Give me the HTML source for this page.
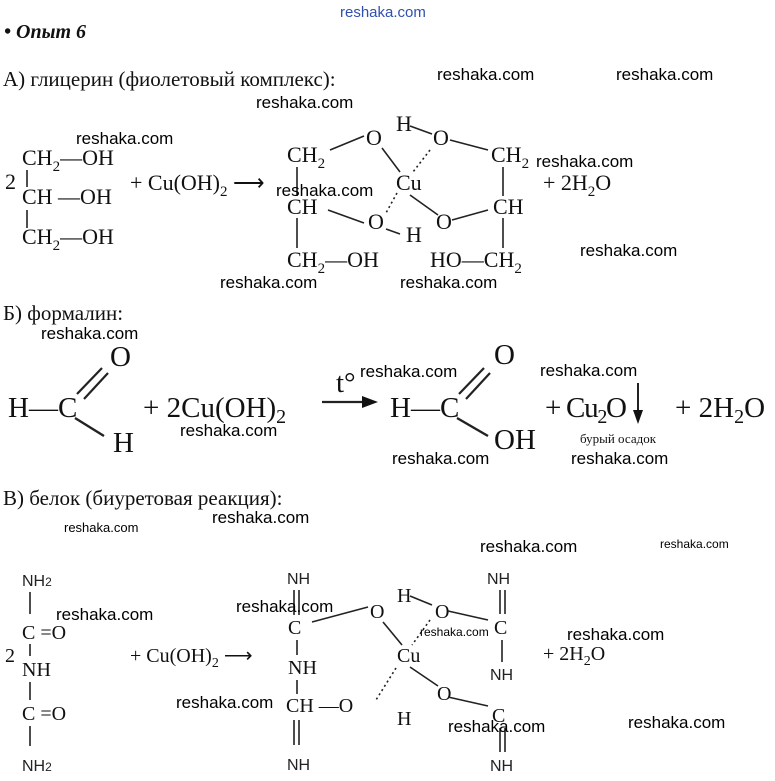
<!DOCTYPE html>
<html><head><meta charset="utf-8"><style>
html,body{margin:0;padding:0;background:#fff;}
svg{display:block}
.s{font-family:"Liberation Serif",serif;fill:#111}
.w{font-family:"Liberation Sans",sans-serif;font-size:17px;fill:#000}
.n{font-family:"Liberation Sans",sans-serif;fill:#222}
line{stroke:#222;stroke-width:1.6}
.d{stroke-dasharray:2 3}
</style></head><body>
<svg width="775" height="781" viewBox="0 0 775 781" xmlns="http://www.w3.org/2000/svg">
<text x="340" y="17" font-family="Liberation Sans,sans-serif" font-size="15" fill="#3050b0">reshaka.com</text>
<text x="4" y="38" class="s" font-size="20" font-weight="bold" font-style="italic">• Опыт 6</text>
<text x="3" y="86" class="s" font-size="21">А) глицерин (фиолетовый комплекс):</text>

<!-- glycerin -->
<g class="s" font-size="22">
<text x="22" y="165">CH<tspan font-size="15" dy="6">2</tspan><tspan dy="-6">—OH</tspan></text>
<text x="22" y="204">CH —OH</text>
<text x="22" y="244">CH<tspan font-size="15" dy="6">2</tspan><tspan dy="-6">—OH</tspan></text>
<text x="5" y="189">2</text>
<text x="130" y="190">+ Cu(OH)<tspan font-size="15" dy="6">2</tspan><tspan dy="-6"> ⟶</tspan></text>
<text x="287" y="162">CH<tspan font-size="15" dy="6">2</tspan></text>
<text x="287" y="214">CH</text>
<text x="287" y="267">CH<tspan font-size="15" dy="6">2</tspan><tspan dy="-6">—OH</tspan></text>
<text x="366" y="145">O</text>
<text x="396" y="131">H</text>
<text x="433" y="145">O</text>
<text x="491" y="162">CH<tspan font-size="15" dy="6">2</tspan></text>
<text x="396" y="190">Cu</text>
<text x="368" y="229">O</text>
<text x="406" y="242">H</text>
<text x="436" y="229">O</text>
<text x="493" y="214">CH</text>
<text x="430" y="267">HO—CH<tspan font-size="15" dy="6">2</tspan></text>
<text x="543" y="190">+ 2H<tspan font-size="15" dy="6">2</tspan><tspan dy="-6">O</tspan></text>
</g>
<line x1="27" y1="170" x2="27" y2="187"/><line x1="27" y1="210" x2="27" y2="228"/>
<line x1="297" y1="167" x2="297" y2="196"/><line x1="297" y1="218" x2="297" y2="248"/>
<line x1="503" y1="167" x2="503" y2="196"/><line x1="503" y1="218" x2="503" y2="248"/>
<line x1="330" y1="150" x2="364" y2="136"/><line x1="382" y1="148" x2="400" y2="172"/>
<line x1="410" y1="126" x2="432" y2="134"/><line x1="450" y1="140" x2="488" y2="150"/>
<line class="d" x1="430" y1="150" x2="413" y2="172"/><line x1="410" y1="195" x2="438" y2="215"/>
<line class="d" x1="397" y1="193" x2="386" y2="213"/><line x1="328" y1="210" x2="364" y2="223"/>
<line x1="386" y1="229" x2="400" y2="234"/><line x1="452" y1="220" x2="488" y2="210"/>

<text x="3" y="320" class="s" font-size="21">Б) формалин:</text>
<g class="s" font-size="29">
<text x="8" y="417">H—C</text>
<text x="110" y="366">O</text>
<text x="113" y="452">H</text>
<text x="143" y="417">+ 2Cu(OH)<tspan font-size="20" dy="6">2</tspan></text>
<text x="336" y="392">t°</text>
<text x="390" y="417">H—C</text>
<text x="494" y="364">O</text>
<text x="494" y="449">OH</text>
<text x="545" y="417" textLength="82">+ Cu<tspan font-size="20" dy="6">2</tspan><tspan dy="-6">O</tspan></text>
<text x="675" y="417">+ 2H<tspan font-size="20" dy="6">2</tspan><tspan dy="-6">O</tspan></text>
</g>
<text x="580" y="443" class="s" font-size="13">бурый осадок</text>
<line x1="77" y1="394" x2="102" y2="368" style="stroke-width:2.2"/><line x1="84" y1="399" x2="108" y2="373" style="stroke-width:2.2"/>
<line x1="75" y1="418" x2="104" y2="436" style="stroke-width:2.4"/>
<line x1="459" y1="394" x2="484" y2="368" style="stroke-width:2.2"/><line x1="466" y1="399" x2="490" y2="373" style="stroke-width:2.2"/>
<line x1="457" y1="418" x2="488" y2="436" style="stroke-width:2.4"/>
<line x1="322" y1="402" x2="365" y2="402" style="stroke-width:2.2"/><polygon points="378,402 362,396 362,408" fill="#111"/>
<line x1="638" y1="383" x2="638" y2="412" style="stroke-width:2"/><polygon points="638,424 633,410 643,410" fill="#111"/>

<text x="3" y="505" class="s" font-size="21">В) белок (биуретовая реакция):</text>
<g class="s" font-size="20">
<text x="22" y="639">C =O</text>
<text x="5" y="662">2</text>
<text x="22" y="676">NH</text>
<text x="22" y="720">C =O</text>
<text x="130" y="662">+ Cu(OH)<tspan font-size="14" dy="5">2</tspan><tspan dy="-5"> ⟶</tspan></text>
<text x="288" y="634">C</text>
<text x="288" y="674">NH</text>
<text x="286" y="712">CH —O</text>
<text x="370" y="618">O</text>
<text x="397" y="602">H</text>
<text x="435" y="618">O</text>
<text x="494" y="634">C</text>
<text x="397" y="662">Cu</text>
<text x="437" y="700">O</text>
<text x="397" y="725">H</text>
<text x="492" y="722">C</text>
<text x="543" y="660">+ 2H<tspan font-size="14" dy="5">2</tspan><tspan dy="-5">O</tspan></text>
</g>
<g class="n" font-size="16">
<text x="22" y="586">NH<tspan font-size="12">2</tspan></text>
<text x="22" y="771">NH<tspan font-size="12">2</tspan></text>
<text x="287" y="584">NH</text><text x="287" y="770">NH</text>
<text x="487" y="584">NH</text><text x="490" y="680">NH</text><text x="490" y="771">NH</text>
</g>
<line x1="30" y1="592" x2="30" y2="614"/><line x1="30" y1="644" x2="30" y2="656"/>
<line x1="30" y1="682" x2="30" y2="700"/><line x1="30" y1="726" x2="30" y2="746"/>
<line x1="294" y1="590" x2="294" y2="615"/><line x1="299" y1="590" x2="299" y2="615"/>
<line x1="297" y1="640" x2="297" y2="655"/><line x1="297" y1="680" x2="297" y2="694"/>
<line x1="294" y1="720" x2="294" y2="745"/><line x1="299" y1="720" x2="299" y2="745"/>
<line x1="500" y1="590" x2="500" y2="614"/><line x1="505" y1="590" x2="505" y2="614"/>
<line x1="502" y1="640" x2="502" y2="662"/>
<line x1="500" y1="728" x2="500" y2="752"/><line x1="505" y1="728" x2="505" y2="752"/>
<line x1="312" y1="622" x2="368" y2="607"/><line x1="383" y1="622" x2="402" y2="645"/>
<line x1="410" y1="596" x2="432" y2="605"/><line x1="448" y1="611" x2="488" y2="620"/>
<line class="d" x1="430" y1="620" x2="412" y2="645"/><line x1="410" y1="667" x2="438" y2="686"/>
<line class="d" x1="396" y1="668" x2="376" y2="700"/><line x1="448" y1="697" x2="488" y2="706"/>

<g class="w">
<text x="437" y="80">reshaka.com</text><text x="616" y="80">reshaka.com</text>
<text x="256" y="108">reshaka.com</text><text x="76" y="144">reshaka.com</text>
<text x="536" y="167">reshaka.com</text><text x="276" y="196">reshaka.com</text>
<text x="580" y="256">reshaka.com</text><text x="220" y="288">reshaka.com</text>
<text x="400" y="288">reshaka.com</text><text x="41" y="339">reshaka.com</text>
<text x="360" y="377">reshaka.com</text><text x="540" y="376">reshaka.com</text>
<text x="180" y="436">reshaka.com</text><text x="392" y="464">reshaka.com</text>
<text x="571" y="464">reshaka.com</text><text x="212" y="523">reshaka.com</text>
<text x="64" y="532" font-size="13">reshaka.com</text><text x="480" y="552">reshaka.com</text>
<text x="660" y="548" font-size="12">reshaka.com</text><text x="56" y="620">reshaka.com</text>
<text x="236" y="612">reshaka.com</text><text x="420" y="636" font-size="12">reshaka.com</text>
<text x="567" y="640">reshaka.com</text><text x="176" y="708">reshaka.com</text>
<text x="448" y="732">reshaka.com</text><text x="628" y="728">reshaka.com</text>
</g>
</svg>
</body></html>
